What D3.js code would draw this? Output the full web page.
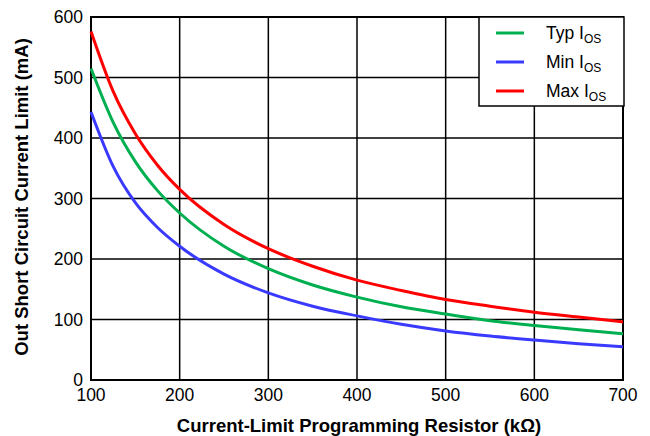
<!DOCTYPE html>
<html>
<head>
<meta charset="utf-8">
<script src="https://cdn.jsdelivr.net/npm/d3@7"></script>
<style>
  body { margin: 0; background: #fff; }
  text { font-family: "Liberation Sans", Arial, sans-serif; fill: #000; }
</style>
</head>
<body>
<div id="chart"></div>
<script>
// data
const resistance = [100, 125, 150, 175, 200, 250, 300, 350, 400, 450, 500, 550, 600, 650, 700];
const typIos = [515, 426, 361, 313, 276, 221, 184, 157, 137, 121, 109, 98, 90, 83, 76.5];
const minIos = [443, 353, 293, 252, 221, 175, 144, 122, 106, 92, 81, 72.7, 66, 60, 55];
const maxIos = [576, 477, 407, 355, 315, 257, 217, 188, 165, 148, 133, 122, 112, 104, 96];

const xTicks = [100, 200, 300, 400, 500, 600, 700];
const yTicks = [0, 100, 200, 300, 400, 500, 600];

const series = [
    { name: "Typ", values: typIos, color: "#00b050" },
    { name: "Min", values: minIos, color: "#3a3aff" },
    { name: "Max", values: maxIos, color: "#ff0000" }
];

const W = 650, H = 436;
const margin = { top: 17, right: 27, bottom: 56, left: 91 },
    width = W - margin.left - margin.right,
    height = H - margin.top - margin.bottom;

const svg = d3.select("#chart")
    .append("svg")
    .attr("width", W)
    .attr("height", H);

const g = svg.append("g")
    .attr("transform", `translate(${margin.left}, ${margin.top})`);

const x = d3.scaleLinear().domain([100, 700]).range([0, width]);
const y = d3.scaleLinear().domain([0, 600]).range([height, 0]);

// grid
g.append("g").selectAll("line")
    .data(xTicks)
    .enter().append("line")
    .attr("x1", d => x(d)).attr("x2", d => x(d))
    .attr("y1", 0).attr("y2", height)
    .attr("stroke", "#000").attr("stroke-width", 1.5);

g.append("g").selectAll("line")
    .data(yTicks)
    .enter().append("line")
    .attr("x1", 0).attr("x2", width)
    .attr("y1", d => y(d)).attr("y2", d => y(d))
    .attr("stroke", "#000").attr("stroke-width", 1.5);

// frame
g.append("rect")
    .attr("width", width).attr("height", height)
    .attr("fill", "none").attr("stroke", "#000").attr("stroke-width", 2);

// tick labels
g.append("g").selectAll("text")
    .data(yTicks)
    .enter().append("text")
    .attr("x", -8)
    .attr("y", d => y(d))
    .attr("dy", "0.35em")
    .attr("text-anchor", "end")
    .style("font-size", "17.5px")
    .text(d => d);

g.append("g").selectAll("text")
    .data(xTicks)
    .enter().append("text")
    .attr("x", d => x(d))
    .attr("y", height + 21)
    .attr("text-anchor", "middle")
    .style("font-size", "17.5px")
    .text(d => d);

// curves
const line = d3.line()
    .x((d, i) => x(resistance[i]))
    .y(d => y(d))
    .curve(d3.curveMonotoneX);

g.selectAll(".curve")
    .data(series)
    .enter().append("path")
    .attr("class", "curve")
    .attr("d", d => line(d.values))
    .attr("fill", "none")
    .attr("stroke", d => d.color)
    .attr("stroke-width", 3);

// axis titles
svg.append("text")
    .attr("x", 359)
    .attr("y", 432)
    .attr("text-anchor", "middle")
    .style("font-size", "18.5px")
    .style("font-weight", "bold")
    .text("Current-Limit Programming Resistor (kΩ)");

svg.append("text")
    .attr("transform", "translate(28, 197) rotate(-90)")
    .attr("text-anchor", "middle")
    .style("font-size", "18.5px")
    .style("font-weight", "bold")
    .text("Out Short Circuit Current Limit (mA)");

// legend
const legend = svg.append("g")
    .attr("transform", "translate(479, 17)");

legend.append("rect")
    .attr("width", 145).attr("height", 89)
    .attr("fill", "#fff").attr("stroke", "#000").attr("stroke-width", 1.5);

const items = legend.selectAll(".item")
    .data(series)
    .enter().append("g")
    .attr("class", "item")
    .attr("transform", (d, i) => `translate(0, ${16 + i * 29})`);

items.append("line")
    .attr("x1", 17).attr("x2", 45)
    .attr("stroke", d => d.color)
    .attr("stroke-width", 3);

const labels = items.append("text")
    .attr("x", 67)
    .attr("y", 6)
    .style("font-size", "17.5px");
labels.append("tspan").text(d => d.name + " I");
labels.append("tspan")
    .attr("dy", 4)
    .style("font-size", "12px")
    .text("OS");
</script>
</body>
</html>
